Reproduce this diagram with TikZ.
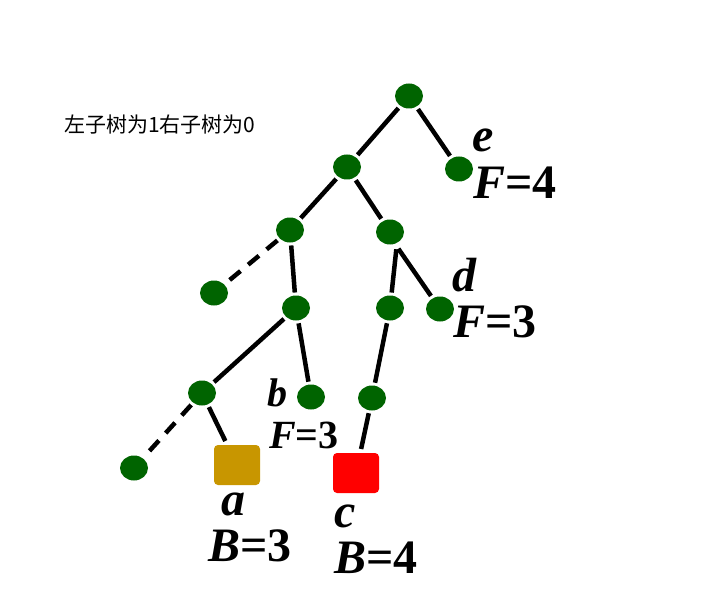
\documentclass[tikz,border=0pt]{standalone}
\usepackage{fontspec}
\setmainfont{Liberation Serif}
\newfontfamily\cjk{Noto Sans CJK SC}
\usepackage{xcolor}
\usetikzlibrary{shapes.geometric}

\definecolor{leafgreen}{RGB}{0,100,0}
\definecolor{boxgold}{RGB}{200,150,0}
\definecolor{boxred}{RGB}{255,0,0}

\tikzset{
	vert/.style={ellipse, fill=leafgreen, minimum width=28pt, minimum height=25pt, inner sep=0pt, outer sep=3pt},
	goal/.style={rounded corners=4pt, minimum width=46pt, minimum height=40pt, inner sep=0pt, outer sep=4pt},
	edge/.style={line width=4.5pt},
	cut/.style={line width=4.5pt, dash pattern=on 14pt off 10pt},
	lab/.style={font=\fontsize{48}{48}\selectfont\bfseries, inner sep=0pt},
	smalllab/.style={font=\fontsize{40}{40}\selectfont\bfseries, inner sep=0pt},
}

\begin{document}
\begin{tikzpicture}[x=1pt, y=-1pt]
	\useasboundingbox (0,0) rectangle (710,599);

	\node[font=\cjk\fontsize{21}{21}\selectfont, inner sep=0pt] (note) at (160,125) {左子树为1右子树为0};

	% the tree
	\node[vert] (r) at (409,96) {};
	\node[vert] (n1) at (347,167) {};
	\node[vert] (e) at (459,169) {};
	\node[vert] (n2) at (290,230) {};
	\node[vert] (n3) at (390,232) {};
	\node[vert] (l1) at (214,293) {};
	\node[vert] (n4) at (296,308) {};
	\node[vert] (n5) at (390,308) {};
	\node[vert] (d) at (440,309) {};
	\node[vert] (n6) at (202,393) {};
	\node[vert] (b) at (311,397) {};
	\node[vert] (n7) at (372,398) {};
	\node[vert] (l2) at (134,468) {};
	\node[goal, fill=boxgold] (a) at (237,465) {};
	\node[goal, fill=boxred] (c) at (356,473) {};

	\draw[edge] (r) -- (n1);
	\draw[edge] (r) -- (e);
	\draw[edge] (n1) -- (n2);
	\draw[edge] (n1) -- (n3);
	\draw[cut] (n2) -- (l1);
	\draw[edge] (n2) -- (n4);
	\draw[edge, shorten <=3pt] (n3.-65) -- (n5);
	\draw[edge, shorten <=3pt] (n3.-65) -- (d);
	\draw[edge] (n4) -- (n6);
	\draw[edge] (n4) -- (b);
	\draw[edge] (n5) -- (n7);
	\draw[cut] (n6) -- (l2);
	\draw[edge] (n6) -- (a);
	\draw[edge] (n7) -- (c);

	% labels
	\node[lab] (eName) at (483,140) {\itshape e};
	\node[lab] (eVal) at (515,183) {\textit{F}=4};
	\node[lab] (dName) at (464,275) {\itshape d};
	\node[lab] (dVal) at (495,322) {\textit{F}=3};
	\node[smalllab] (bName) at (277,393) {\itshape b};
	\node[smalllab] (bVal) at (304,435) {\textit{F}=3};
	\node[lab] (aName) at (233,504) {\itshape a};
	\node[lab] (aVal) at (250,546) {\textit{B}=3};
	\node[lab] (cName) at (345,516) {\itshape c};
	\node[lab] (cVal) at (376,558) {\textit{B}=4};
\end{tikzpicture}
\end{document}
